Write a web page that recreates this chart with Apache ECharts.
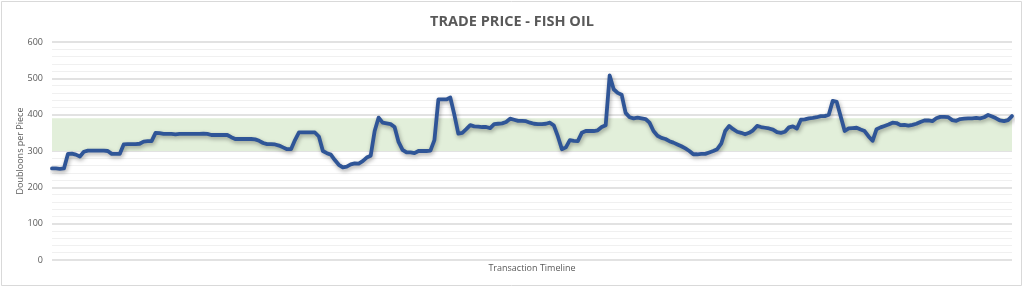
<!DOCTYPE html>
<html>
<head>
<meta charset="utf-8">
<script src="https://cdn.jsdelivr.net/npm/echarts@6/dist/echarts.min.js"></script>
<style>
html,body{margin:0;padding:0;background:#fff;}
#c{width:1024px;height:288px;}
</style>
</head>
<body>
<div id="c"></div>
<script>
const titleText = "TRADE PRICE - FISH OIL";
const yAxisName = "Doubloons per Piece";
const xAxisName = "Transaction Timeline";
const yTicks = [0, 100, 200, 300, 400, 500, 600];
const targetBand = [300, 390];
const prices = [
252,252,251,252,292,293,290,285,298,301,301,301,301,301,300,292,292,292,318,319,
319,319,320,326,327,327,350,349,347,347,347,346,347,347,347,347,347,347,348,347,
344,344,344,344,344,338,333,333,333,333,333,332,328,322,319,319,318,315,310,305,
305,330,351,351,351,351,351,340,300,294,290,275,262,255,257,263,266,265,272,282,
287,355,392,378,376,374,366,325,303,296,296,294,300,300,300,301,330,442,442,442,
447,400,348,350,360,371,368,367,366,366,363,374,375,376,380,389,386,383,383,382,
378,375,374,374,375,378,370,340,305,310,330,328,327,350,355,355,355,357,366,371,
508,470,460,455,405,393,390,392,390,388,378,355,342,336,333,327,323,318,313,307,
300,291,291,292,292,296,300,305,320,355,369,360,353,350,346,350,357,369,366,364,
362,359,352,350,353,365,368,362,386,387,390,391,393,396,396,400,438,435,395,355,
362,363,364,359,355,340,328,360,365,369,373,378,377,371,372,370,372,375,380,384,
384,382,390,394,394,393,385,383,388,389,390,390,391,390,393,399,395,390,384,382,
385,396
];
const categories = prices.map((_, i) => String(i + 1));

const chart = echarts.init(document.getElementById('c'), null, {renderer: 'canvas'});
const txt = '#595959';
chart.setOption({
  animation: false,
  backgroundColor: '#ffffff',
  title: {
    text: titleText,
    left: 'center',
    top: 9,
    textStyle: {fontFamily: 'Open Sans', fontWeight: 'bold', fontSize: 14.5, color: txt}
  },
  graphic: [{
    type: 'rect', silent: true, z: 100,
    shape: {x: 1.5, y: 1.5, width: 1020, height: 284},
    style: {fill: 'none', stroke: '#d9d9d9', lineWidth: 1}
  }],
  grid: {left: 52, right: 12, top: 42, bottom: 28},
  xAxis: {
    type: 'category',
    data: categories,
    boundaryGap: false,
    axisLine: {show: false},
    axisTick: {show: false},
    axisLabel: {show: false},
    name: xAxisName,
    nameLocation: 'middle',
    nameGap: 4,
    nameTextStyle: {fontFamily: 'Open Sans', fontSize: 9, color: txt, verticalAlign: 'top'}
  },
  yAxis: {
    type: 'value',
    min: yTicks[0],
    max: yTicks[yTicks.length - 1],
    interval: 100,
    axisLine: {show: false},
    axisTick: {show: false},
    axisLabel: {fontFamily: 'Open Sans', fontSize: 9, color: txt, margin: 9},
    splitLine: {lineStyle: {color: '#d9d9d9', width: 1.5}},
    minorTick: {show: false, splitNumber: 5},
    minorSplitLine: {show: true, lineStyle: {color: '#f0f0f0', width: 1}},
    name: yAxisName,
    nameLocation: 'middle',
    nameGap: 27,
    nameMoveOverlap: false,
    nameTextStyle: {fontFamily: 'Open Sans', fontSize: 9, color: txt}
  },
  series: [{
    type: 'line',
    data: prices,
    showSymbol: false,
    smooth: false,
    lineStyle: {
      color: '#2F5597', width: 3.8,
      shadowColor: 'rgba(0,0,0,0.35)', shadowBlur: 4, shadowOffsetX: 1, shadowOffsetY: 2,
      join: 'round', cap: 'round'
    },
    markArea: {
      silent: true,
      itemStyle: {color: '#e2efda'},
      data: [[{yAxis: targetBand[0]}, {yAxis: targetBand[1]}]]
    },
    z: 3
  }]
});
</script>
</body>
</html>
